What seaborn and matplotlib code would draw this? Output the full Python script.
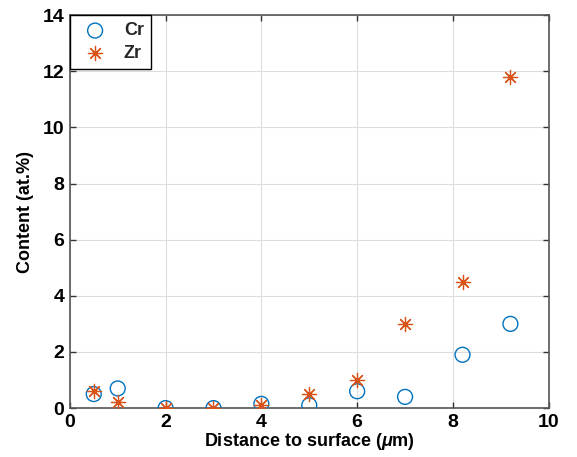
import pandas as pd
import matplotlib
matplotlib.use("Agg")
import matplotlib.pyplot as plt
import seaborn as sns

# values
distance = [0.5, 1.0, 2.0, 3.0, 4.0, 5.0, 6.0, 7.0, 8.2, 9.2]
cr_content = [0.5, 0.7, 0.0, 0.0, 0.15, 0.1, 0.6, 0.4, 1.9, 3.0]
zr_content = [0.6, 0.2, 0.0, 0.0, 0.1, 0.5, 1.0, 3.0, 4.5, 11.8]

CR_COLOR = "#0072BD"
ZR_COLOR = "#D95319"

sns.set_theme(style="whitegrid")
plt.rcParams["font.family"] = ["Liberation Sans", "DejaVu Sans"]
plt.rcParams["font.weight"] = "bold"
plt.rcParams["mathtext.fontset"] = "custom"
plt.rcParams["mathtext.it"] = "Liberation Sans:italic:bold"

df = pd.DataFrame({"distance": distance, "Cr": cr_content, "Zr": zr_content})

fig = plt.figure(figsize=(5.77, 4.57), dpi=100)
ax = fig.add_axes([0.121, 0.107, 0.830, 0.860])

sns.scatterplot(data=df, x="distance", y="Cr", ax=ax, marker="o", s=115,
                facecolors="none", edgecolor=CR_COLOR, linewidth=1.0,
                label="Cr", zorder=3)
sns.scatterplot(data=df, x="distance", y="Zr", ax=ax, marker=(8, 2, 0), s=105,
                color=ZR_COLOR, linewidth=0.9, label="Zr", zorder=4)

ax.set_xlim(0, 10)
ax.set_ylim(0, 14)
ax.set_xticks(range(0, 11, 2))
ax.set_yticks(range(0, 15, 2))
ax.set_xlabel(r"Distance to surface ($\mu$m)", fontsize=13, fontweight="bold",
              color="black", labelpad=0)
ax.set_ylabel("Content (at.%)", fontsize=13, fontweight="bold", color="black",
              labelpad=6)

ax.grid(True, color="#dcdcdc", linewidth=0.8)
ax.set_facecolor("white")
for side in ["left", "right", "top", "bottom"]:
    ax.spines[side].set_visible(True)
    ax.spines[side].set_color("#555555")
    ax.spines[side].set_linewidth(1.2)
ax.tick_params(axis="both", direction="in", length=4, width=1, color="#333333",
               labelsize=14, labelcolor="black", top=True, right=True,
               bottom=True, left=True, pad=4)
for lbl in ax.get_xticklabels() + ax.get_yticklabels():
    lbl.set_fontweight("bold")

leg = ax.legend(loc="upper left", borderaxespad=0, frameon=True, fancybox=False,
                edgecolor="black", framealpha=1, fontsize=13, handletextpad=0.6,
                borderpad=0.4, labelspacing=0.3)
leg.get_frame().set_linewidth(1.0)
for t in leg.get_texts():
    t.set_fontweight("bold")

fig.savefig("out.png", dpi=100)
